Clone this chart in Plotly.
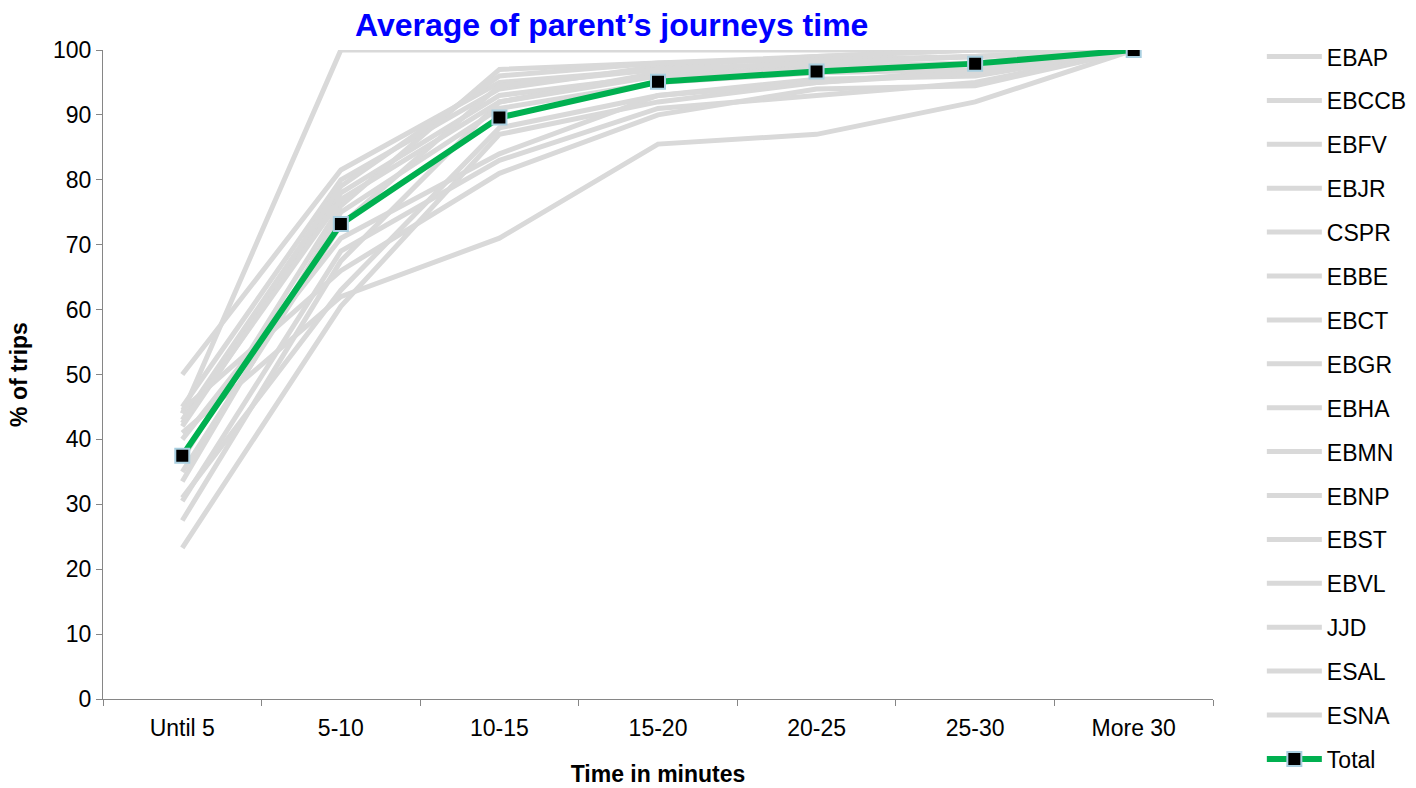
import plotly.graph_objects as go

categories = ["Until 5", "5-10", "10-15", "15-20", "20-25", "25-30", "More 30"]

schools = ["EBAP", "EBCCB", "EBFV", "EBJR", "CSPR", "EBBE", "EBCT", "EBGR",
           "EBHA", "EBMN", "EBNP", "EBST", "EBVL", "JJD", "ESAL", "ESNA"]

ebap = [44, 100, 100, 100, 100, 100, 100]
ebccb = [50, 81.5, 95, 97, 98, 99, 100]
ebfv = [45, 80, 94, 97.5, 99, 100, 100]
ebjr = [23.3, 60.5, 87, 92, 95, 97, 100]
cspr = [42, 78, 93, 96, 97.5, 98, 100]
ebbe = [27.5, 67.5, 92, 96.5, 97, 98, 100]
ebct = [33.5, 75, 91, 95, 96.5, 97, 100]
ebgr = [41, 62, 71, 85.5, 87, 92, 100]
ebha = [37, 76, 97, 98, 99, 100, 100]
ebmn = [30.5, 69, 83, 91, 93, 95, 100]
ebnp = [43, 79, 96, 98, 98.5, 99, 100]
ebst = [44.5, 66, 81, 90, 94, 94.5, 100]
ebvl = [40, 71, 84, 93, 95.5, 96, 100]
jjd = [31, 63, 88, 93, 95, 96.5, 100]
esal = [42.5, 77, 92, 96, 97, 98, 100]
esna = [35, 73, 94.5, 97, 98, 99, 100]

total = [37.5, 73.2, 89.6, 95.1, 96.7, 97.9, 100]

series = [ebap, ebccb, ebfv, ebjr, cspr, ebbe, ebct, ebgr,
          ebha, ebmn, ebnp, ebst, ebvl, jjd, esal, esna]

FONT = "Liberation Sans, Arial, sans-serif"

fig = go.Figure()
for i, (name, vals) in enumerate(zip(schools, series)):
    fig.add_trace(go.Scatter(
        x=categories, y=vals, name=name, mode="lines",
        line=dict(color="#d9d9d9", width=5),
        legendgroup=f"g{i}",
    ))

fig.add_trace(go.Scatter(
    x=categories, y=total, name="Total", mode="lines+markers",
    line=dict(color="#00b050", width=6),
    marker=dict(symbol="square", size=14, color="#000000",
                line=dict(color="#a9cfe0", width=2)),
    legendgroup="total",
))

fig.update_layout(
    width=1416, height=788,
    margin=dict(l=103, r=203, t=50, b=89, autoexpand=False),
    paper_bgcolor="white", plot_bgcolor="white",
    font=dict(family=FONT, size=23, color="#000000"),
    title=dict(text="<b>Average of parent’s journeys time</b>",
               font=dict(family=FONT, size=32, color="#0000ff"),
               x=0.432, xanchor="center", y=0.968, yanchor="middle"),
    showlegend=True,
    legend=dict(x=1.044, xanchor="left", y=1.023, yanchor="top",
                font=dict(family=FONT, size=23, color="#000000"),
                tracegroupgap=11, itemwidth=55, maxheight=788,
                bgcolor="rgba(0,0,0,0)"),
    xaxis=dict(
        type="category", range=[-0.5, 6.5],
        tickson="boundaries", ticks="outside", ticklen=6,
        tickcolor="#868686", showline=True, linecolor="#868686", linewidth=1,
        showgrid=False, zeroline=False, ticklabelstandoff=8,
        tickfont=dict(family=FONT, size=23),
        title=dict(text="<b>Time in minutes</b>",
                   font=dict(family=FONT, size=23), standoff=26),
    ),
    yaxis=dict(
        range=[0, 100], dtick=10, ticks="outside", ticklen=6,
        tickcolor="#868686", showline=True, linecolor="#868686", linewidth=1,
        showgrid=False, zeroline=False,
        tickfont=dict(family=FONT, size=23),
        title=dict(text="<b>% of trips</b>",
                   font=dict(family=FONT, size=23), standoff=18),
    ),
)

fig.write_html("out.html")
